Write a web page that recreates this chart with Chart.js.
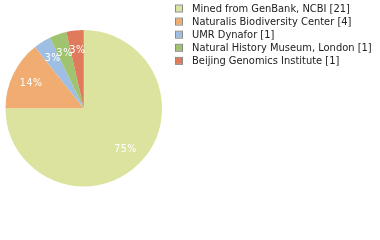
<!DOCTYPE html>
<html><head><meta charset="utf-8">
<script src="https://cdn.jsdelivr.net/npm/chart.js@4"></script>
<style>html,body{margin:0;padding:0;background:#fff}#wrap{width:380px;height:240px;position:relative}</style>
</head><body>
<div id="wrap"><canvas id="chart" width="380" height="240"></canvas></div>
<script>
// Specimen sources and record counts
const sources = [
  'Mined from GenBank, NCBI',
  'Naturalis Biodiversity Center',
  'UMR Dynafor',
  'Natural History Museum, London',
  'Beijing Genomics Institute'
];
const counts = [21, 4, 1, 1, 1];
const sliceColors = ['#dce39e', '#f0ac71', '#9ebfe3', '#9fc36f', '#e07a5d'];

const total = counts.reduce((a, b) => a + b, 0);

// White percentage labels (truncated to whole percent) inside each slice
const sliceLabels = {
  id: 'sliceLabels',
  afterDatasetsDraw(chart) {
    const c = chart.ctx;
    const meta = chart.getDatasetMeta(0);
    c.save();
    c.font = '10.5px "DejaVu Sans Condensed", "DejaVu Sans", sans-serif';
    if ('letterSpacing' in c) c.letterSpacing = '0.6px';
    c.fillStyle = '#ffffff';
    c.textAlign = 'center';
    c.textBaseline = 'middle';
    meta.data.forEach((arc, i) => {
      const p = arc.getProps(['x', 'y', 'startAngle', 'endAngle', 'outerRadius'], true);
      const mid = (p.startAngle + p.endAngle) / 2;
      const r = p.outerRadius * 0.75;
      const pct = Math.floor(counts[i] / total * 100) + '%';
      c.fillText(pct, p.x + Math.cos(mid) * r + 0.3, p.y + Math.sin(mid) * r);
    });
    c.restore();
  }
};

// Legend list on the right: small bordered swatch + source name with count
const sideLegend = {
  id: 'sideLegend',
  afterDraw(chart) {
    const c = chart.ctx;
    c.save();
    c.font = '11px "DejaVu Sans Condensed", "DejaVu Sans", sans-serif';
    c.textBaseline = 'middle';
    c.textAlign = 'left';
    sources.forEach((name, i) => {
      const y = 8.5 + i * 13.1;
      c.fillStyle = sliceColors[i];
      c.fillRect(176, y - 3, 6, 6);
      c.strokeStyle = '#8a8a8a';
      c.lineWidth = 1;
      c.strokeRect(175.5, y - 3.5, 7, 7);
      c.fillStyle = '#222222';
      c.fillText(name + ' [' + counts[i] + ']', 192, y + 0.5);
    });
    c.restore();
  }
};

new Chart(document.getElementById('chart'), {
  type: 'pie',
  data: {
    labels: sources,
    datasets: [{
      data: counts,
      backgroundColor: sliceColors,
      borderWidth: 0
    }]
  },
  options: {
    responsive: false,
    animation: false,
    layout: { padding: { left: 5.5, right: 218, top: 29.5, bottom: 53 } },
    plugins: {
      legend: { display: false },
      tooltip: { enabled: false }
    }
  },
  plugins: [sliceLabels, sideLegend]
});
</script>
</body></html>
